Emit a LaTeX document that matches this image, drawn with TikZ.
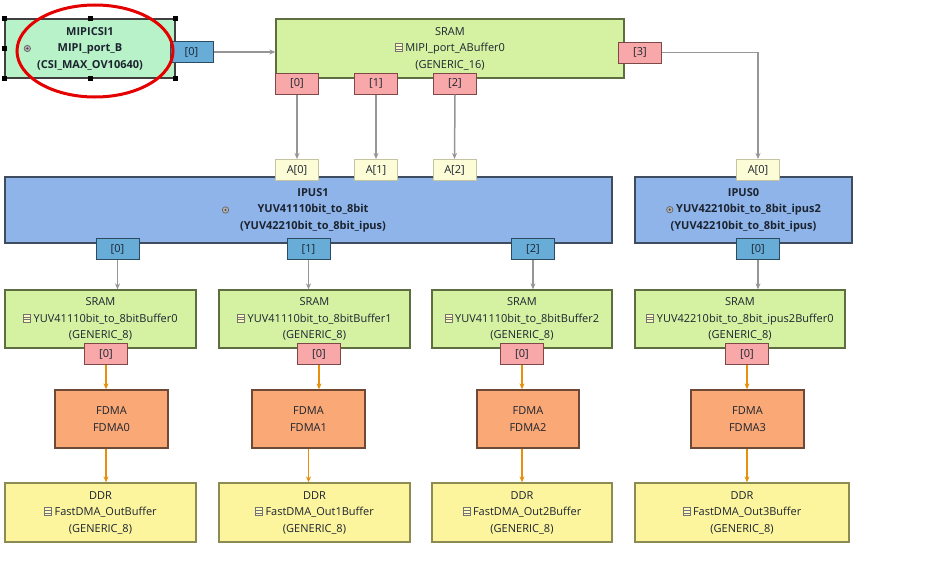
\documentclass[tikz,border=0pt]{standalone}
\usepackage{fontspec}
\setmainfont{Open Sans}
\usetikzlibrary{arrows.meta,calc}

\definecolor{mipifill}{HTML}{B8F2C8}
\definecolor{sramfill}{HTML}{D4F2A2}
\definecolor{sramline}{HTML}{5E6E40}
\definecolor{ipusfill}{HTML}{8EB4EA}
\definecolor{ipusline}{HTML}{3E4C5E}
\definecolor{fdmafill}{HTML}{FAA876}
\definecolor{fdmaline}{HTML}{6E4A36}
\definecolor{ddrfill}{HTML}{FDF59E}
\definecolor{ddrline}{HTML}{8C8C52}
\definecolor{outfill}{HTML}{68ACD8}
\definecolor{outline}{HTML}{2C4A60}
\definecolor{bufport}{HTML}{F8A8A8}
\definecolor{bufline}{HTML}{7E4848}
\definecolor{infill}{HTML}{FCFCD6}
\definecolor{inline}{HTML}{C4C4A0}
\definecolor{flowgray}{HTML}{969696}
\definecolor{floworange}{HTML}{E8900C}
\definecolor{txt}{HTML}{1C2430}

% small icons in front of the names
\newcommand{\procicon}{\tikz[x=1pt,y=1pt,baseline=-3pt]{%
  \draw[black!60,fill=black!30,line width=0.7pt] (0,0) circle (3.2pt);
  \fill[black!70] (0,0) circle (1.2pt);}}
\newcommand{\memicon}{\tikz[x=1pt,y=1pt,baseline=0pt]{%
  \draw[black!55,fill=yellow!25,line width=0.5pt] (0,0) rectangle (7,8);
  \draw[black!55,line width=0.5pt] (0,5) -- (7,5) (0,2.5) -- (7,2.5);}}

\tikzset{
  box/.style={rectangle,draw,line width=1.3pt,inner sep=0pt,align=center,
    text=txt,font=\fontsize{11}{16.5}\selectfont},
  mipibox/.style={box,fill=mipifill,draw=black!75,
    font=\fontsize{11}{16.5}\selectfont\bfseries},
  srambox/.style={box,fill=sramfill,draw=sramline},
  ipusbox/.style={box,fill=ipusfill,draw=ipusline,
    font=\fontsize{11}{16.5}\selectfont\bfseries},
  fdmabox/.style={box,fill=fdmafill,draw=fdmaline,minimum width=113pt,minimum height=58pt},
  ddrbox/.style={box,fill=ddrfill,draw=ddrline,minimum height=59pt},
  port/.style={rectangle,draw,line width=1pt,minimum width=43pt,minimum height=21pt,
    inner sep=0pt,text=txt,font=\fontsize{11}{12}\selectfont},
  outport/.style={port,fill=outfill,draw=outline},
  bufferport/.style={port,fill=bufport,draw=bufline},
  inport/.style={port,fill=infill,draw=inline},
  procmark/.style={inner sep=0pt},
  flow/.style={line width=1.5pt,draw=flowgray,-{Stealth[length=6pt,width=5pt]}},
  dmaflow/.style={line width=1.5pt,draw=floworange,-{Stealth[length=6pt,width=5pt]}},
  handle/.style={fill=black,minimum size=5pt,inner sep=0pt}
}

\begin{document}
\begin{tikzpicture}[x=1pt,y=-1pt]
\useasboundingbox[fill=white] (0,0) rectangle (936,562);
% source and first buffer
\node at (90,48.5) (mipi) [mipibox,minimum width=170pt,minimum height=59pt]
  {MIPICSI1\\MIPI\_port\_B\\(CSI\_MAX\_OV10640)};
\node at (450,48.5) (sram) [srambox,minimum width=348pt,minimum height=59pt]
  {SRAM\\\memicon\ MIPI\_port\_ABuffer0\\(GENERIC\_16)};
% image processing units
\node at (308.5,210) (ipus1) [ipusbox,minimum width=607pt,minimum height=66pt]
  {\hspace{9pt}IPUS1\\\hspace{9pt}YUV41110bit\_to\_8bit\\\hspace{9pt}(YUV42210bit\_to\_8bit\_ipus)};
\node at (743.5,210) (ipus0) [ipusbox,minimum width=217pt,minimum height=66pt]
  {IPUS0\\\procicon\ YUV42210bit\_to\_8bit\_ipus2\\(YUV42210bit\_to\_8bit\_ipus)};
\node at ($(mipi.west)+(23,0)$) (mipimark) [procmark] {\procicon};
\node at ($(ipus1.center)+(-83,0)$) (ipus1mark) [procmark] {\procicon};
% output buffers
\node at (100.5,319) (buf0) [srambox,minimum width=191pt,minimum height=58pt]
  {SRAM\\\memicon\ YUV41110bit\_to\_8bitBuffer0\\(GENERIC\_8)};
\node at (314.5,319) (buf1) [srambox,minimum width=191pt,minimum height=58pt]
  {SRAM\\\memicon\ YUV41110bit\_to\_8bitBuffer1\\(GENERIC\_8)};
\node at (522,319) (buf2) [srambox,minimum width=180pt,minimum height=58pt]
  {SRAM\\\memicon\ YUV41110bit\_to\_8bitBuffer2\\(GENERIC\_8)};
\node at (740,319) (buf3) [srambox,minimum width=210pt,minimum height=58pt]
  {SRAM\\\memicon\ YUV42210bit\_to\_8bit\_ipus2Buffer0\\(GENERIC\_8)};
% DMA engines
\node at (111.5,419) (fdma0) [fdmabox] {FDMA\\FDMA0};
\node at (308.5,419) (fdma1) [fdmabox] {FDMA\\FDMA1};
\node at (528,419) (fdma2) [fdmabox,minimum width=102pt] {FDMA\\FDMA2};
\node at (747.5,419) (fdma3) [fdmabox] {FDMA\\FDMA3};
% DDR buffers
\node at (100.5,512.5) (ddr0) [ddrbox,minimum width=191pt] {DDR\\\memicon\ FastDMA\_OutBuffer\\(GENERIC\_8)};
\node at (314.5,512.5) (ddr1) [ddrbox,minimum width=191pt] {DDR\\\memicon\ FastDMA\_Out1Buffer\\(GENERIC\_8)};
\node at (522,512.5) (ddr2) [ddrbox,minimum width=180pt] {DDR\\\memicon\ FastDMA\_Out2Buffer\\(GENERIC\_8)};
\node at (742,512.5) (ddr3) [ddrbox,minimum width=214pt] {DDR\\\memicon\ FastDMA\_Out3Buffer\\(GENERIC\_8)};
%
% selection marks
\foreach \anchor in {north west,north,north east,west,east,south west,south,south east}
  \node at (mipi.\anchor) [handle] {};
%
% ports
\node at (191.5,52) (mipiout) [outport] {[0]};
\node at (297,83.5) (sramout0) [bufferport] {[0]};
\node at (376,83.5) (sramout1) [bufferport] {[1]};
\node at (455,83.5) (sramout2) [bufferport] {[2]};
\node at (640,52.5) (sramout3) [bufferport] {[3]};
\node at (297,170) (ipus1in0) [inport] {A[0]};
\node at (376,170) (ipus1in1) [inport] {A[1]};
\node at (454.5,170) (ipus1in2) [inport] {A[2]};
\node at (758,170) (ipus0in0) [inport] {A[0]};
\node at (117.5,249) (ipus1out0) [outport] {[0]};
\node at (308.5,249) (ipus1out1) [outport] {[1]};
\node at (533,249) (ipus1out2) [outport] {[2]};
\node at (758,249) (ipus0out0) [outport] {[0]};
\node at (106,354) (bufout0) [bufferport] {[0]};
\node at (319,354) (bufout1) [bufferport] {[0]};
\node at (522,354) (bufout2) [bufferport] {[0]};
\node at (747,354) (bufout3) [bufferport] {[0]};
%
% connections
\draw [flow] (mipiout.east) -- (mipiout.east -| sram.west);
\draw [flow] (sramout0.south) -- (ipus1in0.north);
\draw [flow] (sramout1.south) -- (ipus1in1.north);
\draw [flow] (sramout2.south) -- (ipus1in2.north);
\draw [flow] (sramout3.east) -| (ipus0in0.north);
\draw [flow] (ipus1out0.south) -- (ipus1out0.south |- buf0.north);
\draw [flow] (ipus1out1.south) -- (ipus1out1.south |- buf1.north);
\draw [flow] (ipus1out2.south) -- (ipus1out2.south |- buf2.north);
\draw [flow] (ipus0out0.south) -- (ipus0out0.south |- buf3.north);
\draw [dmaflow] (bufout0.south) -- (bufout0.south |- fdma0.north);
\draw [dmaflow] (bufout1.south) -- (bufout1.south |- fdma1.north);
\draw [dmaflow] (bufout2.south) -- (bufout2.south |- fdma2.north);
\draw [dmaflow] (bufout3.south) -- (bufout3.south |- fdma3.north);
\draw [dmaflow] (fdma0.south -| bufout0) -- (bufout0 |- ddr0.north);
\draw [dmaflow] (fdma1.south) -- (fdma1.south |- ddr1.north);
\draw [dmaflow] (fdma2.south -| bufout2) -- (bufout2 |- ddr2.north);
\draw [dmaflow] (fdma3.south -| bufout3) -- (bufout3 |- ddr3.north);
%
% highlight
\draw [red!90!black, line width=3pt] (95,51) ellipse [x radius=78, y radius=46];
\end{tikzpicture}
\end{document}
